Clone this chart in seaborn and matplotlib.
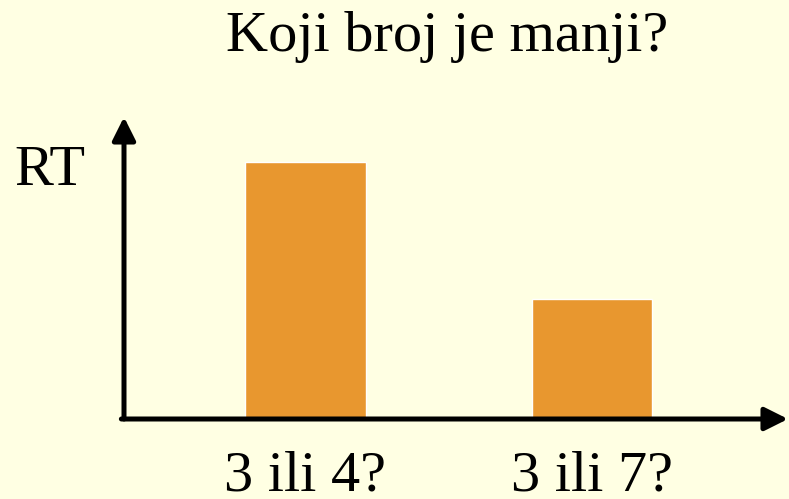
import numpy as np
import pandas as pd
import matplotlib
matplotlib.use("Agg")
import matplotlib.pyplot as plt
import seaborn as sns

# ================= DATA =================
conditions = ["3 ili 4?", "3 ili 7?"]
rt_values = [257, 120]   # relative RT (no scale shown)

title_text = "Koji broj je manji?"
ylabel_text = "RT"

BG = "#FFFFE3"
BAR = "#E8972F"

df = pd.DataFrame({"cond": conditions, "rt": rt_values})

# ================= PLOT =================
sns.set_theme(style="white")
plt.rcParams["font.family"] = ["Liberation Serif", "DejaVu Serif"]
plt.rcParams["text.color"] = "black"
plt.rcParams["xtick.color"] = "black"

fig = plt.figure(figsize=(7.89, 4.99), dpi=100, facecolor=BG)
W, H = 789, 499
left, right, bottom, top = 124, 788, 419, 117
ax = fig.add_axes([left / W, (H - bottom) / H, (right - left) / W, (bottom - top) / H])
ax.set_facecolor(BG)

sns.barplot(data=df, x="cond", y="rt", color=BAR, saturation=1, width=0.422, ax=ax)

# x positions: bar centres at 305.5 and 592 px
unit = 592 - 305.5
ax.set_xlim(-(305.5 - left) / unit, (right - 305.5) / unit)
ax.set_ylim(0, bottom - top)

for s in ax.spines.values():
    s.set_visible(False)
ax.set_yticks([])
ax.set_xlabel("")
ax.set_ylabel("")
ax.tick_params(axis="x", length=0, pad=23, labelsize=42, labelcolor="black")

# axis arrows
arrow = dict(arrowstyle="-|>,head_length=1.0,head_width=0.5", lw=3.6, color="black",
             shrinkA=0, shrinkB=0, mutation_scale=14)
ax.annotate("", xy=(0, 1), xytext=(0, 0), xycoords="axes fraction",
            arrowprops=arrow, annotation_clip=False)
ax.annotate("", xy=(1, 0), xytext=(-0.004, 0), xycoords="axes fraction",
            arrowprops=arrow, annotation_clip=False)

fig.text(447 / W, 1 - 51 / H, title_text, ha="center", va="baseline", fontsize=42)
fig.text(14 / W, 1 - 185 / H, ylabel_text, ha="left", va="baseline", fontsize=42)

fig.savefig("out.png", dpi=100, facecolor=BG)
